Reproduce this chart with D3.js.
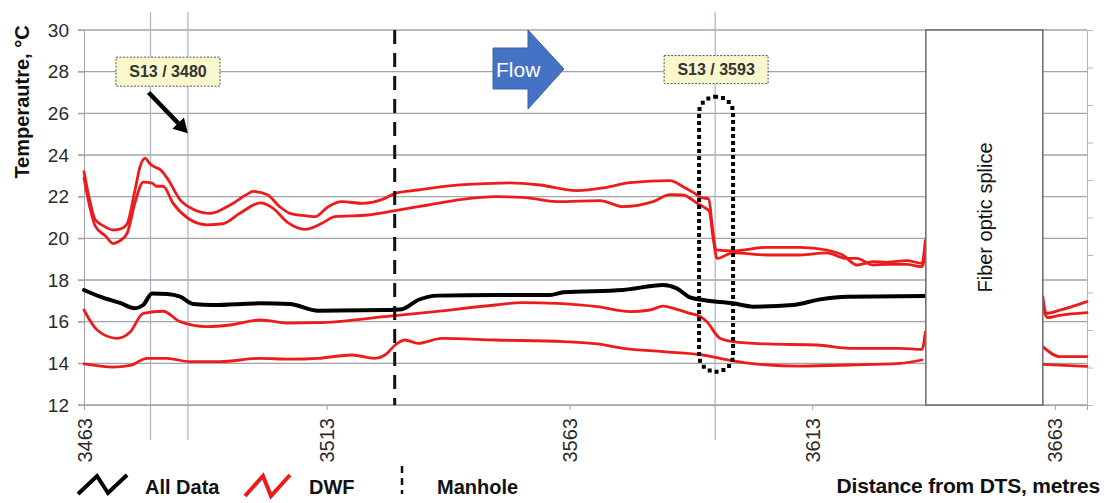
<!DOCTYPE html>
<html><head><meta charset="utf-8">
<script src="https://cdn.jsdelivr.net/npm/d3@7"></script>
<style>
html,body{margin:0;padding:0;background:#fff;}
svg{display:block;font-family:"Liberation Sans",Arial,sans-serif;}
</style></head><body>
<svg id="chart" width="1107" height="503"></svg>
<script>
// Temperature profiles along the sewer (distance from the DTS unit, metres)
const allData = [
  [3463.0,17.52],[3466.3,17.2],[3470.4,16.9],[3473.5,16.65],[3475.2,16.8],[3477.0,17.35],
  [3480.1,17.33],[3482.8,17.2],[3485.5,16.85],[3489.6,16.8],[3499.3,16.88],[3505.4,16.85],
  [3511.2,16.53],[3525.0,16.56],[3528.5,16.6],[3531.8,17.04],[3535.9,17.25],[3547.7,17.28],
  [3559.0,17.28],[3561.7,17.41],[3574.0,17.52],[3582.3,17.76],[3585.1,17.6],[3587.8,17.17],
  [3590.5,17.04],[3596.7,16.88],[3600.8,16.72],[3609.0,16.8],[3614.6,17.07],[3620.2,17.2],
  [3636.2,17.23]
];
const dwfUpperHigh = [
  [3463.0,23.2],[3464.2,21.8],[3465.3,20.9],[3467.0,20.6],[3469.0,20.4],[3471.0,20.5],
  [3471.9,20.7],[3473.5,22.3],[3474.5,23.4],[3475.6,23.85],[3476.5,23.6],[3477.0,23.5],
  [3477.8,23.4],[3478.7,23.3],[3480.1,22.9],[3482.8,21.85],[3485.5,21.4],[3489.0,21.2],
  [3493.1,21.6],[3496.5,22.1],[3497.8,22.25],[3500.7,22.1],[3503.4,21.5],[3505.4,21.2],
  [3508.0,21.1],[3510.6,21.04],[3513.3,21.52],[3516.1,21.76],[3520.3,21.68],[3525.0,21.92],
  [3527.1,22.16],[3531.8,22.32],[3538.8,22.53],[3547.7,22.64],[3550.7,22.66],[3556.9,22.56],
  [3564.5,22.29],[3570.7,22.45],[3575.5,22.67],[3583.7,22.77],[3586.4,22.48],[3588.8,22.16],
  [3590.2,21.95],[3591.7,21.9],[3592.4,20.6],[3593.2,19.45],[3596.7,19.4],[3603.7,19.57],
  [3610.5,19.57],[3616.0,19.44],[3619.3,19.2],[3622.2,18.72],[3625.5,18.88],[3628.4,18.85],
  [3632.5,18.93],[3635.6,18.8],[3636.3,19.9],
  [3637.0,null],
  [3660.5,17.2],[3661.2,16.4],[3664.0,16.55],[3669.6,16.96]
];
const dwfUpperLow = [
  [3463.0,22.9],[3464.2,21.5],[3465.3,20.6],[3467.5,20.1],[3469.0,19.75],[3470.5,19.9],
  [3471.9,20.25],[3473.5,21.7],[3475.2,22.7],[3477.0,22.65],[3478.0,22.5],[3479.3,22.5],
  [3481.3,21.7],[3484.2,21.0],[3488.3,20.65],[3491.6,20.7],[3495.1,21.2],[3499.3,21.7],
  [3501.9,21.45],[3505.0,20.75],[3508.5,20.43],[3512.0,20.72],[3514.7,21.04],[3521.5,21.12],
  [3527.1,21.33],[3533.9,21.6],[3540.9,21.87],[3547.7,22.0],[3553.4,21.97],[3560.4,21.76],
  [3569.3,21.81],[3574.0,21.52],[3580.2,21.76],[3583.7,22.1],[3586.4,22.08],[3589.3,21.68],
  [3590.5,21.52],[3591.8,21.3],[3592.6,20.0],[3593.4,19.04],[3596.7,19.3],[3603.7,19.2],
  [3610.5,19.2],[3616.0,19.3],[3620.0,19.04],[3622.2,19.04],[3625.5,18.72],[3628.4,18.75],
  [3632.5,18.75],[3635.6,18.64],[3636.3,19.3],
  [3637.0,null],
  [3660.5,16.6],[3661.5,16.2],[3664.0,16.3],[3669.6,16.43]
];
const dwfLowerHigh = [
  [3463.0,16.56],[3465.7,15.6],[3469.8,15.2],[3472.5,15.5],[3475.2,16.4],[3479.3,16.5],
  [3482.8,16.0],[3488.3,15.76],[3493.1,15.84],[3499.3,16.08],[3505.4,15.93],[3511.2,15.95],
  [3525.0,16.24],[3535.3,16.48],[3547.7,16.8],[3553.4,16.91],[3560.4,16.88],[3568.7,16.72],
  [3575.5,16.48],[3579.6,16.56],[3582.3,16.75],[3585.1,16.59],[3587.8,16.4],[3589.9,16.25],
  [3591.3,16.0],[3594.0,15.2],[3596.7,15.04],[3603.7,14.93],[3614.0,14.88],[3620.8,14.72],
  [3631.1,14.72],[3635.6,14.67],[3636.3,15.5],
  [3637.0,null],
  [3660.5,14.8],[3664.0,14.32],[3669.6,14.32]
];
const dwfLowerLow = [
  [3463.0,13.97],[3469.0,13.82],[3472.5,13.9],[3476.0,14.24],[3480.1,14.24],[3484.8,14.08],
  [3491.0,14.08],[3499.3,14.24],[3505.4,14.2],[3511.2,14.24],[3518.2,14.4],[3522.9,14.24],
  [3525.0,14.4],[3527.1,14.88],[3529.1,15.12],[3531.8,14.96],[3536.7,15.2],[3547.7,15.12],
  [3561.7,15.04],[3568.7,14.93],[3574.0,14.72],[3582.3,14.56],[3590.5,14.4],[3594.0,14.24],
  [3600.2,14.0],[3610.5,13.87],[3620.8,13.92],[3631.1,14.0],[3635.6,14.16],
  [3637.0,null],
  [3660.5,13.95],[3669.6,13.85]
];

const yTickValues = [12,14,16,18,20,22,24,26,28,30];
const xTickValues = [3463,3513,3563,3613,3663];
const sensorMarks = [3476.7,3484.4,3593];
const manholeAt = 3527;
const splice = [3636.4,3660.5];
const calloutLabels = ["S13 / 3480","S13 / 3593"];

(function draw(){
const plotL = 84, plotR = 1087, plotT = 30, plotB = 405;

const svg = d3.select("#chart");
const x = d3.scaleLinear().domain([3463,3669.6]).range([plotL,plotR]);
const y = d3.scaleLinear().domain([12,30]).range([plotB,plotT]);

// horizontal grid
svg.append("g").selectAll("line").data(yTickValues).join("line")
  .attr("x1",plotL-6).attr("x2",plotR).attr("y1",d=>y(d)).attr("y2",d=>y(d))
  .attr("stroke","#a4a4a4").attr("stroke-width",1.3);

// sensor position markers
svg.append("g").selectAll("line").data(sensorMarks).join("line")
  .attr("x1",d=>x(d)).attr("x2",d=>x(d)).attr("y1",12).attr("y2",440)
  .attr("stroke","#aab1cc").attr("stroke-width",1.2);

// secondary (unlabelled) right axis
const yRight = d3.scaleLinear().domain([0,10]).range([plotB,plotT]);
const ra = svg.append("g").attr("transform",`translate(${plotR},0)`)
  .call(d3.axisRight(yRight).ticks(10).tickSize(6).tickFormat(""));
ra.selectAll("path,line").attr("stroke","#b5b5b5");

// left axis
const la = svg.append("g").attr("transform",`translate(${plotL},0)`)
  .call(d3.axisLeft(y).tickValues(yTickValues).tickSize(6).tickPadding(9));
la.select(".domain").attr("stroke","#a4a4a4");
la.selectAll("line").attr("stroke","#a4a4a4");
la.selectAll("text").attr("font-size",19).attr("fill","#2a2a2a")
  .attr("font-family","Liberation Sans, Arial, sans-serif");

// bottom axis
const ba = svg.append("g").attr("transform",`translate(0,${plotB})`)
  .call(d3.axisBottom(x).tickValues(xTickValues).tickSize(5).tickFormat(d3.format("d")));
ba.select(".domain").attr("stroke","#a4a4a4");
ba.selectAll("line").attr("stroke","#a4a4a4");
ba.selectAll("text")
  .attr("font-size",20).attr("fill","#2a2a2a")
  .attr("font-family","Liberation Sans, Arial, sans-serif")
  .attr("text-anchor","end").attr("dy","0.35em")
  .attr("transform","translate(0,13) rotate(-90)")
  .attr("y",0).attr("x",0);

// series
const line = d3.line().defined(d=>d[1]!=null)
  .x(d=>x(d[0])).y(d=>y(d[1])).curve(d3.curveMonotoneX);
const g = svg.append("g").attr("fill","none").attr("stroke-linejoin","round").attr("stroke-linecap","round");
[dwfUpperHigh,dwfUpperLow,dwfLowerHigh,dwfLowerLow].forEach(s=>{
  g.append("path").datum(s).attr("d",line).attr("stroke","#ec1c1c").attr("stroke-width",2.8);
});
g.append("path").datum(allData).attr("d",line).attr("stroke","#000").attr("stroke-width",4);

// fibre optic splice region
svg.append("rect").attr("x",x(splice[0])).attr("y",plotT)
  .attr("width",x(splice[1])-x(splice[0])).attr("height",plotB-plotT)
  .attr("fill","#fff").attr("stroke","#6a6a6a").attr("stroke-width",1.5);
svg.append("text")
  .attr("transform",`translate(${(x(splice[0])+x(splice[1]))/2+1},${y(21.0)}) rotate(-90)`)
  .attr("text-anchor","middle").attr("dy","0.35em")
  .attr("font-size",20).attr("fill","#111").text("Fiber optic splice");

// manhole
svg.append("line").attr("x1",x(manholeAt)).attr("x2",x(manholeAt)).attr("y1",plotT).attr("y2",plotB)
  .attr("stroke","#111").attr("stroke-width",3).attr("stroke-dasharray","14 9");

// dotted outline round the drop at S13 / 3593
const ox0 = x(3589.7), ox1 = x(3596.7), oy0 = y(26.8), oy1 = y(13.6);
svg.append("rect").attr("x",ox0).attr("y",oy0).attr("width",ox1-ox0).attr("height",oy1-oy0)
  .attr("rx",(ox1-ox0)/2).attr("ry",16)
  .attr("fill","none").attr("stroke","#000").attr("stroke-width",4)
  .attr("stroke-dasharray","0 7").attr("stroke-linecap","square");

// flow direction arrow
const fx = 493, fy = 69;
svg.append("path")
  .attr("d",`M${fx},${fy-21} H${fx+35} V${fy-39} L${fx+71},${fy} L${fx+35},${fy+40} V${fy+20} H${fx} Z`)
  .attr("fill","#4472c4").attr("stroke","#3a62a8").attr("stroke-width",1);
svg.append("text").attr("x",fx+3).attr("y",fy+8).attr("font-size",21).attr("fill","#fff").text("Flow");

// callout labels
function callout(cx, cy, w, h, label){
  svg.append("rect").attr("x",cx-w/2).attr("y",cy-h/2).attr("width",w).attr("height",h)
    .attr("fill","#f8f8cc").attr("stroke","#555").attr("stroke-width",1).attr("stroke-dasharray","2 1.5");
  svg.append("text").attr("x",cx).attr("y",cy).attr("dy","0.36em").attr("text-anchor","middle")
    .attr("font-size",16).attr("font-weight","bold").attr("fill","#333").text(label);
}
callout(x(3480.3), y(28.0), 104, 29, calloutLabels[0]);
callout(x(3593.2), y(28.1), 104, 28, calloutLabels[1]);

// pointer arrow towards the 3480 section
const ax0 = x(3476.3), ay0 = y(27.0), ax1 = x(3484.4), ay1 = y(25.05);
const ang = Math.atan2(ay1-ay0, ax1-ax0);
const hl = 14, hw = 8;
const bx = ax1 - hl*Math.cos(ang), by = ay1 - hl*Math.sin(ang);
svg.append("line").attr("x1",ax0).attr("y1",ay0).attr("x2",bx).attr("y2",by)
  .attr("stroke","#000").attr("stroke-width",4.5);
svg.append("path").attr("d",
  `M${ax1},${ay1} L${bx+hw*Math.sin(ang)},${by-hw*Math.cos(ang)} L${bx-hw*Math.sin(ang)},${by+hw*Math.cos(ang)} Z`)
  .attr("fill","#000");

// y axis title
svg.append("text").attr("transform","translate(22,102) rotate(-90)")
  .attr("text-anchor","middle").attr("dy","0.35em")
  .attr("font-size",20).attr("font-weight","bold").attr("fill","#111").text("Temperautre, °C");

// x axis title
svg.append("text").attr("x",1100).attr("y",493).attr("text-anchor","end")
  .attr("font-size",21).attr("font-weight","bold").attr("fill","#111")
  .attr("letter-spacing","-0.2").text("Distance from DTS, metres");

// legend
const lg = svg.append("g");
lg.append("path").attr("d","M78,494 L97,476 L108,493 L127,475")
  .attr("fill","none").attr("stroke","#000").attr("stroke-width",4).attr("stroke-linejoin","miter");
lg.append("text").attr("x",145).attr("y",494).attr("font-size",20).attr("font-weight","bold").attr("fill","#111").text("All Data");
lg.append("path").attr("d","M245,496 L263,476 L271,496 L290,475")
  .attr("fill","none").attr("stroke","#ec1c1c").attr("stroke-width",4).attr("stroke-linejoin","miter");
lg.append("text").attr("x",309).attr("y",494).attr("font-size",20).attr("font-weight","bold").attr("fill","#111").text("DWF");
lg.append("line").attr("x1",402).attr("x2",402).attr("y1",466).attr("y2",494)
  .attr("stroke","#111").attr("stroke-width",2.5).attr("stroke-dasharray","7 5");
lg.append("text").attr("x",437).attr("y",494).attr("font-size",20).attr("font-weight","bold").attr("fill","#111").text("Manhole");
})();
</script>
</body></html>
